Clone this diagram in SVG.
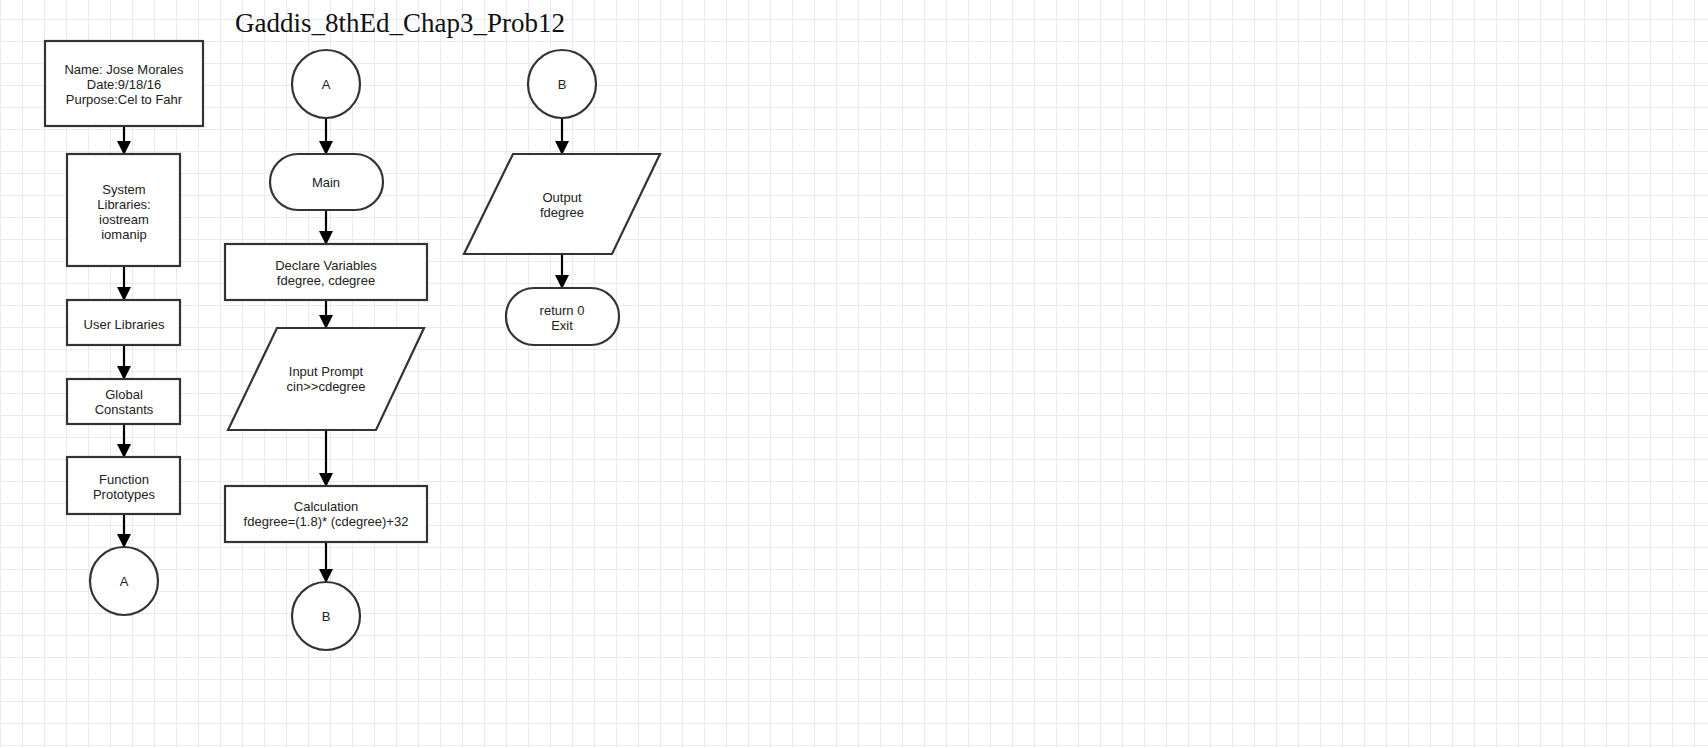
<svg xmlns="http://www.w3.org/2000/svg" width="1708" height="748" viewBox="0 0 1708 748">
<defs>
<pattern id="grid" patternUnits="userSpaceOnUse" x="0" y="19" width="22" height="22">
<path d="M0 0.5H22M0.5 0V22" fill="none" stroke="#e9e9f6" stroke-width="1"/>
</pattern>
<marker id="arr" markerUnits="userSpaceOnUse" markerWidth="14" markerHeight="16" refX="13" refY="7" orient="auto" viewBox="0 0 14 14">
<path d="M0 0L14 7L0 14Z" fill="#000"/>
</marker>
</defs>
<style>
.s{fill:#fff;stroke:#333;stroke-width:2.2}
.t{font-family:"Liberation Sans",Arial,sans-serif;font-size:13px;fill:#222;text-anchor:middle}
.c{fill:none;stroke:#000;stroke-width:2.2;marker-end:url(#arr)}
</style>
<rect width="1708" height="748" fill="#fff"/>
<rect width="1708" height="748" fill="url(#grid)"/>
<text x="235" y="32" font-family="'Liberation Serif','Times New Roman',serif" font-size="27" fill="#111">Gaddis_8thEd_Chap3_Prob12</text>
<g id="connectors">
<path class="c" d="M124 126V154"/>
<path class="c" d="M124 266V300"/>
<path class="c" d="M124 345V379"/>
<path class="c" d="M124 424V457"/>
<path class="c" d="M124 514V547"/>
<path class="c" d="M326 118V154"/>
<path class="c" d="M326 210V244"/>
<path class="c" d="M326 300V328"/>
<path class="c" d="M326 430V486"/>
<path class="c" d="M326 542V582"/>
<path class="c" d="M562 118V154"/>
<path class="c" d="M562 254V288"/>
</g>
<g id="header">
<rect class="s" x="45" y="41" width="158" height="85"/>
<text class="t" x="124" y="74">Name: Jose Morales</text>
<text class="t" x="124" y="89">Date:9/18/16</text>
<text class="t" x="124" y="104">Purpose:Cel to Fahr</text>
</g>
<g id="syslib">
<rect class="s" x="67" y="154" width="113" height="112"/>
<text class="t" x="124" y="194">System</text>
<text class="t" x="124" y="209">Libraries:</text>
<text class="t" x="124" y="224">iostream</text>
<text class="t" x="124" y="239">iomanip</text>
</g>
<g id="userlib">
<rect class="s" x="67" y="300" width="113" height="45"/>
<text class="t" x="124" y="329">User Libraries</text>
</g>
<g id="globals">
<rect class="s" x="67" y="379" width="113" height="45"/>
<text class="t" x="124" y="399">Global</text>
<text class="t" x="124" y="414">Constants</text>
</g>
<g id="protos">
<rect class="s" x="67" y="457" width="113" height="57"/>
<text class="t" x="124" y="484">Function</text>
<text class="t" x="124" y="499">Prototypes</text>
</g>
<g id="connA1">
<circle class="s" cx="124" cy="581" r="34"/>
<text class="t" x="124" y="586">A</text>
</g>
<g id="connA2">
<circle class="s" cx="326" cy="84" r="34"/>
<text class="t" x="326" y="89">A</text>
</g>
<g id="main">
<rect class="s" x="270" y="154" width="113" height="56" rx="28" ry="28"/>
<text class="t" x="326" y="187">Main</text>
</g>
<g id="declare">
<rect class="s" x="225" y="244" width="202" height="56"/>
<text class="t" x="326" y="270">Declare Variables</text>
<text class="t" x="326" y="285">fdegree, cdegree</text>
</g>
<g id="input">
<polygon class="s" points="277,328 424,328 376,430 228,430"/>
<text class="t" x="326" y="376">Input Prompt</text>
<text class="t" x="326" y="391">cin&gt;&gt;cdegree</text>
</g>
<g id="calc">
<rect class="s" x="225" y="486" width="202" height="56"/>
<text class="t" x="326" y="511">Calculation</text>
<text class="t" x="326" y="526">fdegree=(1.8)* (cdegree)+32</text>
</g>
<g id="connB1">
<circle class="s" cx="326" cy="616" r="34"/>
<text class="t" x="326" y="621">B</text>
</g>
<g id="connB2">
<circle class="s" cx="562" cy="84" r="34"/>
<text class="t" x="562" y="89">B</text>
</g>
<g id="output">
<polygon class="s" points="513,154 660,154 612,254 464,254"/>
<text class="t" x="562" y="202">Output</text>
<text class="t" x="562" y="217">fdegree</text>
</g>
<g id="exit">
<rect class="s" x="506" y="288" width="113" height="57" rx="28" ry="28"/>
<text class="t" x="562" y="315">return 0</text>
<text class="t" x="562" y="330">Exit</text>
</g>
</svg>
